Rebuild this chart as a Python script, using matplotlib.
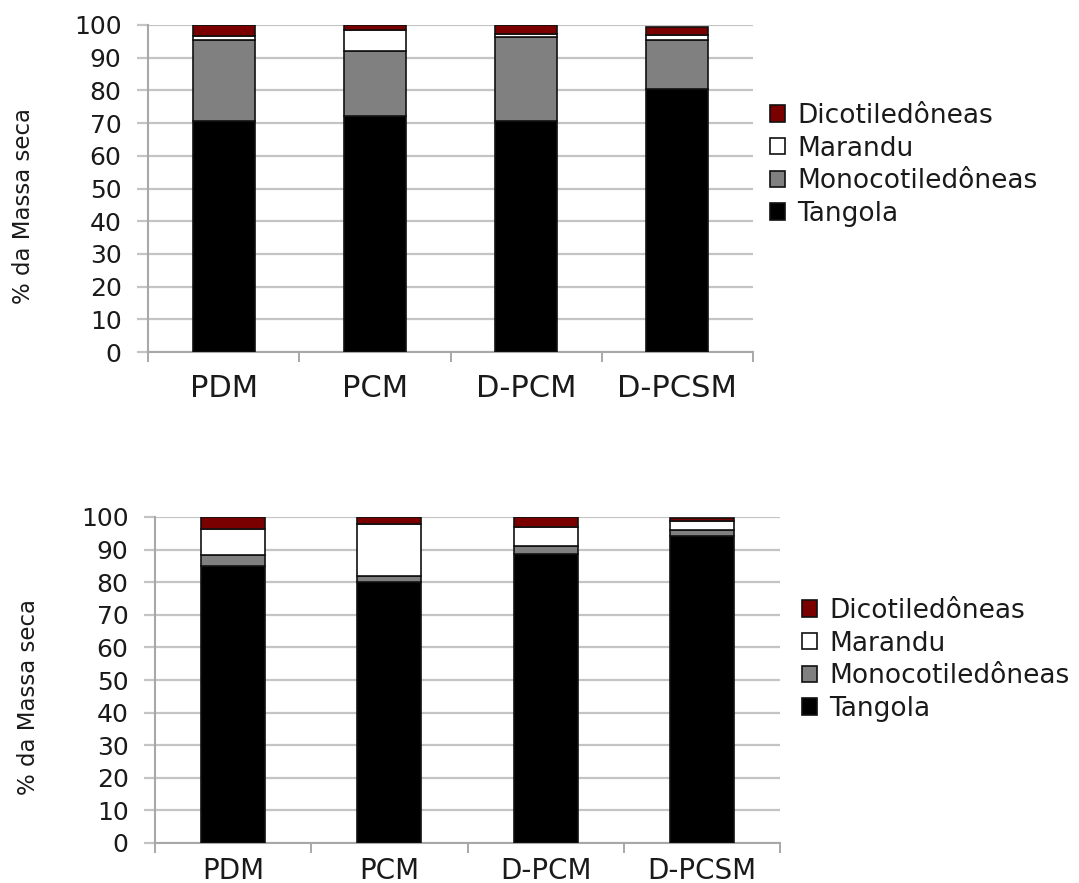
import matplotlib
matplotlib.use("Agg")
import matplotlib.pyplot as plt
from matplotlib.patches import Patch
import numpy as np

plt.rcParams['font.family'] = ['DejaVu Sans']

categories = ["PDM", "PCM", "D-PCM", "D-PCSM"]
series_names = ["Tangola", "Monocotiledôneas", "Marandu", "Dicotiledôneas"]
colors = ["#000000", "#808080", "#ffffff", "#7a0000"]

# Top chart values (% da massa seca)
top_tangola = [70.5, 72.3, 70.5, 80.5]
top_mono = [25.0, 19.7, 25.8, 14.8]
top_marandu = [1.0, 6.4, 1.0, 1.7]
top_dicot = [3.5, 1.6, 2.7, 2.4]

# Bottom chart values
bot_tangola = [85.0, 80.2, 88.8, 94.3]
bot_mono = [3.2, 1.8, 2.2, 1.7]
bot_marandu = [8.1, 15.7, 6.0, 2.8]
bot_dicot = [3.7, 2.3, 3.0, 0.8]

W, H = 1079, 883
fig = plt.figure(figsize=(W / 100, H / 100), dpi=100)

grid_c = "#c4c4c4"
spine_c = "#a8a8a8"
txt_c = "#1a1a1a"


def draw(ax, data, legend_anchor, ylabel_xy, xpad, xsize):
    x = np.arange(len(categories))
    bottom = np.zeros(len(categories))
    for vals, col in zip(data, colors):
        ax.bar(x, vals, width=0.41, bottom=bottom, color=col,
               edgecolor="#111111", linewidth=1.2, zorder=3)
        bottom += np.array(vals)
    ax.set_xlim(-0.5, len(categories) - 0.5)
    ax.set_ylim(0, 100)
    ax.set_yticks(np.arange(0, 101, 10))
    ax.yaxis.grid(True, color=grid_c, linewidth=1.6, zorder=0)
    ax.set_axisbelow(True)
    ax.set_xticks(x)
    ax.set_xticklabels(categories, fontsize=xsize, color=txt_c)
    ax.set_xticks(np.arange(-0.5, len(categories)), minor=True)
    ax.tick_params(axis="x", which="major", length=0, pad=xpad)
    ax.tick_params(axis="x", which="minor", length=7, width=1.4, color=spine_c)
    ax.tick_params(axis="y", length=8, width=1.6, color=grid_c, pad=11,
                   labelsize=18, labelcolor=txt_c)
    for s in ["top", "right"]:
        ax.spines[s].set_visible(False)
    for s in ["left", "bottom"]:
        ax.spines[s].set_color(spine_c)
        ax.spines[s].set_linewidth(1.5)
    fig.text(ylabel_xy[0], ylabel_xy[1], "% da Massa seca", rotation=90,
             ha="center", va="center", fontsize=16.5, color=txt_c)
    handles = [Patch(facecolor=c, edgecolor="#111111", linewidth=1.2)
               for c in colors][::-1]
    fig.legend(handles, series_names[::-1], loc="upper left",
               bbox_to_anchor=legend_anchor, bbox_transform=fig.transFigure,
               frameon=False, fontsize=19, handlelength=0.58,
               handleheight=0.58, handletextpad=0.45, labelspacing=0.25,
               borderpad=0, borderaxespad=0, labelcolor=txt_c)


ax1 = fig.add_axes([148 / W, 1 - 352 / H, 605 / W, 327 / H])
draw(ax1, [top_tangola, top_mono, top_marandu, top_dicot],
     (770 / W, 1 - 103 / H), (24 / W, 1 - 206 / H), 16, 22)

ax2 = fig.add_axes([155 / W, 1 - 843 / H, 625 / W, 326 / H])
draw(ax2, [bot_tangola, bot_mono, bot_marandu, bot_dicot],
     (802 / W, 1 - 598 / H), (29 / W, 1 - 697 / H), 10, 20)

fig.savefig("out.png", dpi=100)
